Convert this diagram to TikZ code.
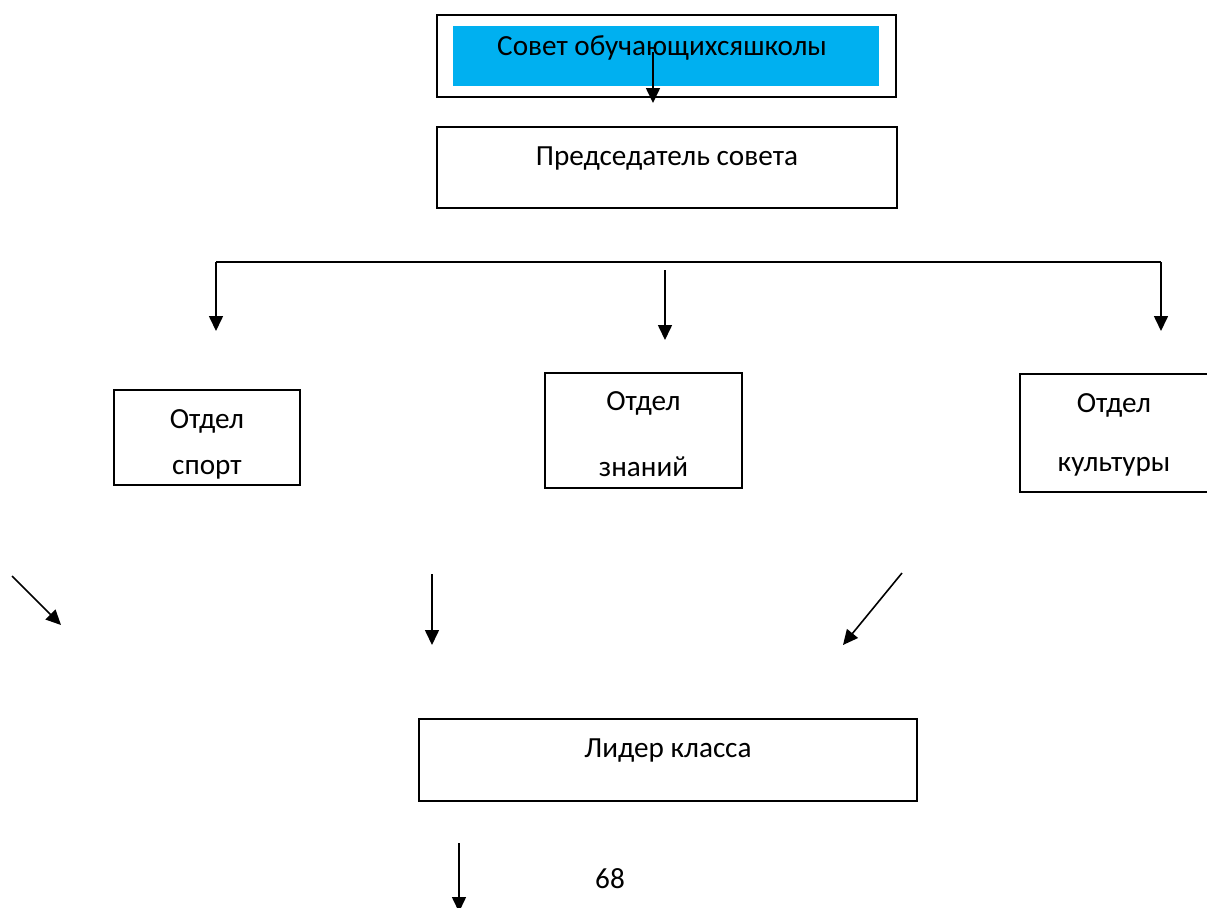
\documentclass[tikz,border=0pt]{standalone}
\usepackage{fontspec}
\setmainfont{Carlito}
\usetikzlibrary{arrows.meta}
\definecolor{sovetblue}{HTML}{00B0F0}

\begin{document}
\begin{tikzpicture}[x=0.5pt,y=-0.5pt,
  box/.style={draw,line width=1pt,inner sep=0pt},
  lbl/.style={inner sep=0pt,font=\fontsize{14.6}{17}\selectfont},
  arr/.style={line width=0.8pt,-{Triangle[length=7.5pt,width=7pt]}}]
\clip (0,0) rectangle (1207,907);
\useasboundingbox (0,0) rectangle (1207,907);

% Council of students
\node[box,minimum width=229.5pt,minimum height=41pt] (sovet) at (666.5,56) {};
\node[fill=sovetblue,inner sep=0pt,minimum width=213pt,minimum height=30pt] (sovetfill) at (666,56) {};
\node[lbl] (sovettxt) at (662,48) {Совет обучающихсяшколы};
\coordinate (sovetstart) at (653,52);
\coordinate (sovetend) at (653,103);
\draw[arr] (sovetstart) -- (sovetend);

% Chairman
\node[box,minimum width=230pt,minimum height=40.5pt] (pred) at (667,167.5) {};
\node[lbl] (predtxt) at (667,159) {Председатель совета};

% Branching line
\coordinate (brleft) at (216,262);
\coordinate (brright) at (1161,262);
\coordinate (leftend) at (216,331);
\coordinate (rightend) at (1161,331);
\draw[arr] (leftend |- brleft) -- (leftend);
\draw[line width=0.8pt] (brleft) -- (brright);
\draw[arr] (brright) -- (rightend);
\coordinate (midstart) at (665,270);
\coordinate (midend) at (665,340);
\draw[arr] (midstart) -- (midend);

% Departments
\node[box,minimum width=93pt,minimum height=47.5pt] (sport) at (207,437.5) {};
\node[lbl] (sporta) at (207,421) {Отдел};
\node[lbl] (sportb) at (207,470) {спорт};

\node[box,minimum width=98.5pt,minimum height=57.5pt] (znan) at (643.5,430.5) {};
\node[lbl] (znana) at (643.5,403) {Отдел};
\node[lbl] (znanb) at (643.5,467) {знаний};

\node[box,minimum width=94pt,minimum height=59pt] (kult) at (1114,433) {};
\node[lbl] (kulta) at (1114,405) {Отдел};
\node[lbl] (kultb) at (1114,467) {культуры};

% Arrows to leader
\coordinate (d1a) at (12,576);
\coordinate (d1b) at (61,625);
\coordinate (d2a) at (432,574);
\coordinate (d2b) at (432,645);
\coordinate (d3a) at (902,573);
\coordinate (d3b) at (843,645);
\draw[arr] (d1a) -- (d1b);
\draw[arr] (d2a) -- (d2b);
\draw[arr] (d3a) -- (d3b);

% Class leader
\node[box,minimum width=249pt,minimum height=41pt] (lider) at (668,760) {};
\node[lbl] (lidertxt) at (668,751) {Лидер класса};

\coordinate (endstart) at (459,843);
\coordinate (endend) at (459,912);
\draw[arr] (endstart) -- (endend);
\node[lbl] (page) at (610,879) {68};
\end{tikzpicture}
\end{document}
